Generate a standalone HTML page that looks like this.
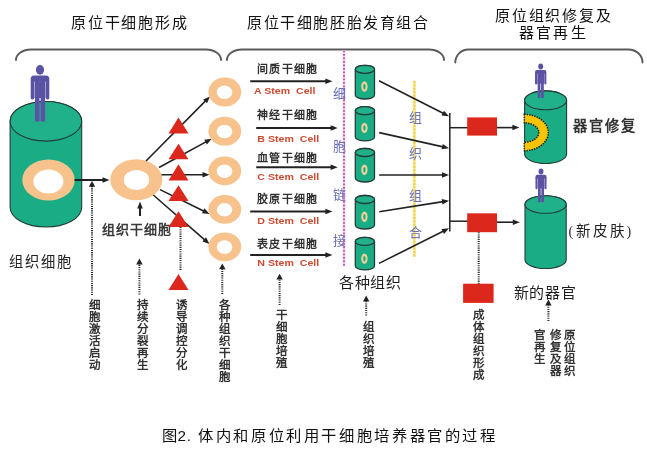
<!DOCTYPE html>
<html lang="zh-CN"><head><meta charset="utf-8"><title>图2</title>
<style>html,body{margin:0;padding:0;background:#fff;width:647px;height:454px;overflow:hidden;font-family:"Liberation Sans",sans-serif}svg{display:block;will-change:transform}</style>
</head><body><svg width="647" height="454" viewBox="0 0 647 454"><text x="71" y="28.3" font-family='"Liberation Sans", sans-serif' font-size="15" fill="#111" font-weight="500" letter-spacing="1.75" >原位干细胞形成</text><text x="247" y="28.3" font-family='"Liberation Sans", sans-serif' font-size="15" fill="#111" font-weight="500" letter-spacing="1.6" >原位干细胞胚胎发育组合</text><text x="495" y="20.5" font-family='"Liberation Sans", sans-serif' font-size="15" fill="#111" font-weight="500" letter-spacing="1.75" >原位组织修复及</text><text x="519" y="37.5" font-family='"Liberation Sans", sans-serif' font-size="15" fill="#111" font-weight="500" letter-spacing="2.2" >器官再生</text><path d="M16,60 A15,10.5 0 0 1 31,49.5 L206,49.5 A15,10.5 0 0 1 221,60" fill="none" stroke="#5a5a5a" stroke-width="1.9" stroke-linecap="round"/><path d="M227,60 A15,10.5 0 0 1 242,49.5 L429,49.5 A15,10.5 0 0 1 444,60" fill="none" stroke="#5a5a5a" stroke-width="1.9" stroke-linecap="round"/><path d="M455.3,62.5 A13,13 0 0 1 468.3,49.5 L628.5,49.5 A14,13 0 0 1 642.5,62.5" fill="none" stroke="#5a5a5a" stroke-width="1.9" stroke-linecap="round"/><path d="M10.1,121.3 L10.1,207.2 A35.8,19.8 0 0 0 81.7,207.2 L81.7,121.3 A35.8,19.8 0 0 0 10.1,121.3 Z" fill="#1aad85" stroke="#253d38" stroke-width="1.1"/><ellipse cx="45.9" cy="121.3" rx="35.8" ry="19.8" fill="#20b08a" stroke="#253d38" stroke-width="1.1"/><g transform="translate(40,65) scale(1.0000)" fill="#5a52a3"><ellipse cx="0" cy="4.85" rx="4.1" ry="4.85"/><path d="M-9.3,14 Q-9.3,10.5 -6,10.5 L6,10.5 Q9.3,10.5 9.3,14 L9.3,16.5 L-9.3,16.5 Z"/><rect x="-9.3" y="15" width="3.4" height="19.6" rx="1.7"/><rect x="5.9" y="15" width="3.4" height="19.6" rx="1.7"/><rect x="-5.5" y="15" width="11" height="18"/><rect x="-5.0" y="30" width="4.5" height="26.6" rx="1.2"/><rect x="0.6" y="30" width="4.5" height="26.6" rx="1.2"/></g><ellipse cx="48.5" cy="180.0" rx="26.2" ry="20.6" fill="#f7c28b"/><ellipse cx="48.4" cy="181.4" rx="15.0" ry="12.0" fill="#fff"/><line x1="74.5" y1="180" x2="103.50" y2="180.00" stroke="#222" stroke-width="2"/><path d="M109.50,180.00 L102.50,182.75 L102.50,177.25 Z" fill="#222"/><line x1="92" y1="295" x2="92" y2="186" stroke="#2a2a2a" stroke-width="2.0" stroke-dasharray="1.1 1.1"/><path d="M92.00,181.00 L95.20,186.80 L88.80,186.80 Z" fill="#222"/><ellipse cx="136.3" cy="179.7" rx="26" ry="20.5" fill="#f7c28b"/><ellipse cx="136.5" cy="180" rx="12.7" ry="10.1" fill="#fff"/><line x1="140" y1="216" x2="140.00" y2="207.50" stroke="#222" stroke-width="2"/><path d="M140.00,201.50 L142.75,208.50 L137.25,208.50 Z" fill="#222"/><text x="102" y="233.8" font-family='"Liberation Serif", serif' font-size="13" fill="#3a3a3a" font-weight="bold" letter-spacing="1.0" >组织干细胞</text><text x="9.3" y="266.7" font-family='"Liberation Serif", serif' font-size="14.3" fill="#222" font-weight="500" letter-spacing="1.9" >组织细胞</text><line x1="146" y1="161" x2="205.78" y2="100.66" stroke="#222" stroke-width="1.6"/><path d="M210.00,96.40 L207.03,103.31 L203.12,99.44 Z" fill="#222"/><line x1="159" y1="167.5" x2="206.43" y2="141.58" stroke="#222" stroke-width="1.6"/><path d="M211.70,138.70 L206.88,144.47 L204.24,139.64 Z" fill="#222"/><line x1="161.5" y1="174.7" x2="203.50" y2="174.70" stroke="#222" stroke-width="1.6"/><path d="M209.50,174.70 L202.50,177.45 L202.50,171.95 Z" fill="#222"/><line x1="160" y1="189.6" x2="204.11" y2="211.26" stroke="#222" stroke-width="1.6"/><path d="M209.50,213.90 L202.00,213.28 L204.43,208.35 Z" fill="#222"/><line x1="153.3" y1="195" x2="204.98" y2="240.06" stroke="#222" stroke-width="1.6"/><path d="M209.50,244.00 L202.42,241.47 L206.03,237.33 Z" fill="#222"/><path d="M178.5,117.4 L188.5,133.4 L168.5,133.4 Z" fill="#dc281c"/><path d="M178.5,143.8 L188.5,159.2 L168.5,159.2 Z" fill="#dc281c"/><path d="M178.5,164.3 L188.5,180.4 L168.5,180.4 Z" fill="#dc281c"/><path d="M178.5,185.2 L188.5,201 L168.5,201 Z" fill="#dc281c"/><path d="M178.5,211.2 L188.5,227 L168.5,227 Z" fill="#dc281c"/><path d="M178.5,274 L188.5,290 L168.5,290 Z" fill="#dc281c"/><line x1="180.5" y1="227" x2="180.5" y2="271" stroke="#2a2a2a" stroke-width="2.0" stroke-dasharray="1.1 1.1"/><ellipse cx="224.8" cy="92" rx="16.4" ry="14.4" fill="#f7c28b"/><ellipse cx="224.5" cy="92.3" rx="7.8" ry="6.8" fill="#fff"/><ellipse cx="224.8" cy="131.2" rx="16.4" ry="14.4" fill="#f7c28b"/><ellipse cx="224.5" cy="131.5" rx="7.8" ry="6.8" fill="#fff"/><ellipse cx="224.8" cy="170.9" rx="16.4" ry="14.4" fill="#f7c28b"/><ellipse cx="224.5" cy="171.2" rx="7.8" ry="6.8" fill="#fff"/><ellipse cx="224.8" cy="209.4" rx="16.4" ry="14.4" fill="#f7c28b"/><ellipse cx="224.5" cy="209.7" rx="7.8" ry="6.8" fill="#fff"/><ellipse cx="224.8" cy="246.8" rx="16.4" ry="14.4" fill="#f7c28b"/><ellipse cx="224.5" cy="247.1" rx="7.8" ry="6.8" fill="#fff"/><line x1="139.4" y1="294.5" x2="139.4" y2="263.6" stroke="#2a2a2a" stroke-width="2.0" stroke-dasharray="1.1 1.1"/><path d="M139.40,258.60 L142.60,264.40 L136.20,264.40 Z" fill="#222"/><line x1="222.3" y1="294" x2="222.3" y2="268.5" stroke="#2a2a2a" stroke-width="2.0" stroke-dasharray="1.1 1.1"/><path d="M222.30,263.50 L225.50,269.30 L219.10,269.30 Z" fill="#222"/><line x1="279.6" y1="305" x2="279.6" y2="278.7" stroke="#2a2a2a" stroke-width="2.0" stroke-dasharray="1.1 1.1"/><path d="M279.60,273.70 L282.80,279.50 L276.40,279.50 Z" fill="#222"/><line x1="366.2" y1="315.5" x2="366.2" y2="300.6" stroke="#2a2a2a" stroke-width="2.0" stroke-dasharray="1.1 1.1"/><path d="M366.20,295.60 L369.40,301.40 L363.00,301.40 Z" fill="#222"/><line x1="548.4" y1="321" x2="548.4" y2="304.6" stroke="#2a2a2a" stroke-width="2.0" stroke-dasharray="1.1 1.1"/><path d="M548.40,299.60 L551.60,305.40 L545.20,305.40 Z" fill="#222"/><text font-family='"Liberation Serif", serif' font-size="11.5" fill="#333" font-weight="bold" text-anchor="middle"><tspan x="94.6" y="308.59">细</tspan><tspan x="94.6" y="320.59">胞</tspan><tspan x="94.6" y="332.59">激</tspan><tspan x="94.6" y="344.59">活</tspan><tspan x="94.6" y="356.59">启</tspan><tspan x="94.6" y="368.59">动</tspan></text><text font-family='"Liberation Serif", serif' font-size="11.5" fill="#333" font-weight="bold" text-anchor="middle"><tspan x="142.7" y="308.59">持</tspan><tspan x="142.7" y="320.59">续</tspan><tspan x="142.7" y="332.59">分</tspan><tspan x="142.7" y="344.59">裂</tspan><tspan x="142.7" y="356.59">再</tspan><tspan x="142.7" y="368.59">生</tspan></text><text font-family='"Liberation Serif", serif' font-size="11.5" fill="#333" font-weight="bold" text-anchor="middle"><tspan x="181.5" y="308.59">诱</tspan><tspan x="181.5" y="320.59">导</tspan><tspan x="181.5" y="332.59">调</tspan><tspan x="181.5" y="344.59">控</tspan><tspan x="181.5" y="356.59">分</tspan><tspan x="181.5" y="368.59">化</tspan></text><text font-family='"Liberation Serif", serif' font-size="11.5" fill="#333" font-weight="bold" text-anchor="middle"><tspan x="224.8" y="308.59">各</tspan><tspan x="224.8" y="320.59">种</tspan><tspan x="224.8" y="332.59">组</tspan><tspan x="224.8" y="344.59">织</tspan><tspan x="224.8" y="356.59">干</tspan><tspan x="224.8" y="368.59">细</tspan><tspan x="224.8" y="380.59">胞</tspan></text><text font-family='"Liberation Serif", serif' font-size="11.5" fill="#333" font-weight="bold" text-anchor="middle"><tspan x="281" y="318.79">干</tspan><tspan x="281" y="330.79">细</tspan><tspan x="281" y="342.79">胞</tspan><tspan x="281" y="354.79">培</tspan><tspan x="281" y="366.79">殖</tspan></text><text font-family='"Liberation Serif", serif' font-size="11.5" fill="#333" font-weight="bold" text-anchor="middle"><tspan x="368" y="330.59">组</tspan><tspan x="368" y="342.59">织</tspan><tspan x="368" y="354.59">培</tspan><tspan x="368" y="366.59">殖</tspan></text><text font-family='"Liberation Serif", serif' font-size="11.5" fill="#333" font-weight="bold" text-anchor="middle"><tspan x="478.8" y="319.39">成</tspan><tspan x="478.8" y="331.39">体</tspan><tspan x="478.8" y="343.39">组</tspan><tspan x="478.8" y="355.39">织</tspan><tspan x="478.8" y="367.39">形</tspan><tspan x="478.8" y="379.39">成</tspan></text><text font-family='"Liberation Serif", serif' font-size="11.5" fill="#333" font-weight="bold" text-anchor="middle"><tspan x="569.6" y="339.19">原</tspan><tspan x="569.6" y="351.19">位</tspan><tspan x="569.6" y="363.19">组</tspan><tspan x="569.6" y="375.19">织</tspan></text><text font-family='"Liberation Serif", serif' font-size="11.5" fill="#333" font-weight="bold" text-anchor="middle"><tspan x="555" y="339.19">修</tspan><tspan x="555" y="351.19">复</tspan><tspan x="555" y="363.19">及</tspan><tspan x="555" y="375.19">器</tspan></text><text font-family='"Liberation Serif", serif' font-size="11.5" fill="#333" font-weight="bold" text-anchor="middle"><tspan x="539.8" y="339.19">官</tspan><tspan x="539.8" y="351.19">再</tspan><tspan x="539.8" y="363.19">生</tspan></text><text x="257.2" y="72.8" font-family='"Liberation Serif", serif' font-size="11" fill="#303030" font-weight="bold" letter-spacing="1.25" >间质干细胞</text><line x1="250.2" y1="81.3" x2="326.40" y2="81.30" stroke="#222" stroke-width="2"/><path d="M332.40,81.30 L325.40,84.05 L325.40,78.55 Z" fill="#222"/><text transform="translate(254,94.00) scale(1.13,1)" font-family='"Liberation Sans", sans-serif' font-size="9.4" fill="#cc4b32" font-weight="bold">A Stem  Cell</text><text x="257.2" y="118.8" font-family='"Liberation Serif", serif' font-size="11" fill="#303030" font-weight="bold" letter-spacing="1.25" >神经干细胞</text><line x1="256.2" y1="127.9" x2="331.70" y2="127.90" stroke="#222" stroke-width="2"/><path d="M337.70,127.90 L330.70,130.65 L330.70,125.15 Z" fill="#222"/><text transform="translate(257.3,141.70) scale(1.13,1)" font-family='"Liberation Sans", sans-serif' font-size="9.4" fill="#cc4b32" font-weight="bold">B Stem  Cell</text><text x="257.2" y="161.6" font-family='"Liberation Serif", serif' font-size="11" fill="#303030" font-weight="bold" letter-spacing="1.25" >血管干细胞</text><line x1="256.2" y1="167.2" x2="331.70" y2="167.20" stroke="#222" stroke-width="2"/><path d="M337.70,167.20 L330.70,169.95 L330.70,164.45 Z" fill="#222"/><text transform="translate(257.3,180.00) scale(1.13,1)" font-family='"Liberation Sans", sans-serif' font-size="9.4" fill="#cc4b32" font-weight="bold">C Stem  Cell</text><text x="257.2" y="203.4" font-family='"Liberation Serif", serif' font-size="11" fill="#303030" font-weight="bold" letter-spacing="1.25" >胶原干细胞</text><line x1="250.2" y1="211.5" x2="326.40" y2="211.50" stroke="#222" stroke-width="2"/><path d="M332.40,211.50 L325.40,214.25 L325.40,208.75 Z" fill="#222"/><text transform="translate(257.3,224.00) scale(1.13,1)" font-family='"Liberation Sans", sans-serif' font-size="9.4" fill="#cc4b32" font-weight="bold">D Stem  Cell</text><text x="257.2" y="247.9" font-family='"Liberation Serif", serif' font-size="11" fill="#303030" font-weight="bold" letter-spacing="1.25" >表皮干细胞</text><line x1="250.2" y1="255.1" x2="326.40" y2="255.10" stroke="#222" stroke-width="2"/><path d="M332.40,255.10 L325.40,257.85 L325.40,252.35 Z" fill="#222"/><text transform="translate(257.3,266.20) scale(1.13,1)" font-family='"Liberation Sans", sans-serif' font-size="9.4" fill="#cc4b32" font-weight="bold">N Stem  Cell</text><line x1="344" y1="50" x2="344" y2="266" stroke="#f5cdee" stroke-width="2.6"/><line x1="344" y1="50.5" x2="344" y2="266" stroke="#bb62ad" stroke-width="2.0" stroke-dasharray="1.7 1.8"/><line x1="414.3" y1="81" x2="414.3" y2="257" stroke="#f7e896" stroke-width="3"/><line x1="414.3" y1="81" x2="414.3" y2="257" stroke="#ecd24e" stroke-width="2.1" stroke-dasharray="1.9 1.5"/><text x="333.4" y="98.2" font-family='"Liberation Serif", serif' font-size="13" fill="#6a70ba" font-weight="500" letter-spacing="0" >细</text><text x="333.4" y="150.5" font-family='"Liberation Serif", serif' font-size="13" fill="#6a70ba" font-weight="500" letter-spacing="0" >胞</text><text x="333.4" y="198.9" font-family='"Liberation Serif", serif' font-size="13" fill="#6a70ba" font-weight="500" letter-spacing="0" >链</text><text x="333.4" y="245.4" font-family='"Liberation Serif", serif' font-size="13" fill="#6a70ba" font-weight="500" letter-spacing="0" >接</text><text x="409.4" y="122.0" font-family='"Liberation Serif", serif' font-size="13" fill="#6a70ba" font-weight="500" letter-spacing="0" >组</text><text x="409.4" y="158.4" font-family='"Liberation Serif", serif' font-size="13" fill="#6a70ba" font-weight="500" letter-spacing="0" >织</text><text x="409.4" y="199.9" font-family='"Liberation Serif", serif' font-size="13" fill="#6a70ba" font-weight="500" letter-spacing="0" >组</text><text x="409.4" y="237.4" font-family='"Liberation Serif", serif' font-size="13" fill="#6a70ba" font-weight="500" letter-spacing="0" >合</text><path d="M355.3,69.3 L355.3,95 A9.6,4 0 0 0 374.5,95 L374.5,69.3 A9.6,4 0 0 0 355.3,69.3 Z" fill="#1aad85" stroke="#253d38" stroke-width="1.3"/><ellipse cx="364.9" cy="69.3" rx="9.6" ry="4" fill="#20b08a" stroke="#253d38" stroke-width="1.3"/><ellipse cx="364.4" cy="86.5" rx="3.2" ry="5.2" fill="#f1cf96"/><ellipse cx="364.4" cy="86.5" rx="1.2" ry="2.7" fill="#1aad85"/><path d="M355.3,110.7 L355.3,136.9 A9.6,4 0 0 0 374.5,136.9 L374.5,110.7 A9.6,4 0 0 0 355.3,110.7 Z" fill="#1aad85" stroke="#253d38" stroke-width="1.3"/><ellipse cx="364.9" cy="110.7" rx="9.6" ry="4" fill="#20b08a" stroke="#253d38" stroke-width="1.3"/><ellipse cx="364.4" cy="127.9" rx="3.2" ry="5.2" fill="#f1cf96"/><ellipse cx="364.4" cy="127.9" rx="1.2" ry="2.7" fill="#1aad85"/><path d="M355.3,152.5 L355.3,178 A9.6,4 0 0 0 374.5,178 L374.5,152.5 A9.6,4 0 0 0 355.3,152.5 Z" fill="#1aad85" stroke="#253d38" stroke-width="1.3"/><ellipse cx="364.9" cy="152.5" rx="9.6" ry="4" fill="#20b08a" stroke="#253d38" stroke-width="1.3"/><ellipse cx="364.4" cy="169.7" rx="3.2" ry="5.2" fill="#f1cf96"/><ellipse cx="364.4" cy="169.7" rx="1.2" ry="2.7" fill="#1aad85"/><path d="M355.3,199.5 L355.3,225 A9.6,4 0 0 0 374.5,225 L374.5,199.5 A9.6,4 0 0 0 355.3,199.5 Z" fill="#1aad85" stroke="#253d38" stroke-width="1.3"/><ellipse cx="364.9" cy="199.5" rx="9.6" ry="4" fill="#20b08a" stroke="#253d38" stroke-width="1.3"/><ellipse cx="364.4" cy="216.7" rx="3.2" ry="5.2" fill="#f1cf96"/><ellipse cx="364.4" cy="216.7" rx="1.2" ry="2.7" fill="#1aad85"/><path d="M355.3,241.4 L355.3,265.9 A9.6,4 0 0 0 374.5,265.9 L374.5,241.4 A9.6,4 0 0 0 355.3,241.4 Z" fill="#1aad85" stroke="#253d38" stroke-width="1.3"/><ellipse cx="364.9" cy="241.4" rx="9.6" ry="4" fill="#20b08a" stroke="#253d38" stroke-width="1.3"/><ellipse cx="364.4" cy="258.6" rx="3.2" ry="5.2" fill="#f1cf96"/><ellipse cx="364.4" cy="258.6" rx="1.2" ry="2.7" fill="#1aad85"/><line x1="379" y1="80.7" x2="443.65" y2="113.58" stroke="#222" stroke-width="1.6"/><path d="M449.00,116.30 L441.51,115.58 L444.01,110.68 Z" fill="#222"/><line x1="379.2" y1="132.6" x2="443.14" y2="146.89" stroke="#222" stroke-width="1.6"/><path d="M449.00,148.20 L441.57,149.36 L442.77,143.99 Z" fill="#222"/><line x1="379.2" y1="175" x2="443.00" y2="175.00" stroke="#222" stroke-width="1.6"/><path d="M449.00,175.00 L442.00,177.75 L442.00,172.25 Z" fill="#222"/><line x1="379.2" y1="211.7" x2="443.07" y2="201.63" stroke="#222" stroke-width="1.6"/><path d="M449.00,200.70 L442.51,204.51 L441.66,199.07 Z" fill="#222"/><line x1="379" y1="263.4" x2="443.64" y2="230.99" stroke="#222" stroke-width="1.6"/><path d="M449.00,228.30 L443.98,233.90 L441.51,228.98 Z" fill="#222"/><line x1="449.8" y1="113" x2="449.8" y2="231.6" stroke="#222" stroke-width="1.5"/><line x1="449.8" y1="127.7" x2="468" y2="127.7" stroke="#222" stroke-width="1.5"/><line x1="449.8" y1="221.2" x2="468" y2="221.2" stroke="#222" stroke-width="1.5"/><rect x="467.2" y="117.4" width="29.8" height="18.2" fill="#dc281c"/><rect x="467.2" y="213.3" width="29.8" height="18.9" fill="#dc281c"/><rect x="463.1" y="283.7" width="30.5" height="19.2" fill="#dc281c"/><line x1="478.7" y1="232.2" x2="478.7" y2="283.7" stroke="#2a2a2a" stroke-width="2.0" stroke-dasharray="1.1 1.1"/><line x1="497" y1="127.6" x2="513.40" y2="127.60" stroke="#222" stroke-width="1.6"/><path d="M519.40,127.60 L512.40,130.35 L512.40,124.85 Z" fill="#222"/><line x1="497" y1="222.2" x2="513.80" y2="222.20" stroke="#222" stroke-width="1.6"/><path d="M519.80,222.20 L512.80,224.95 L512.80,219.45 Z" fill="#222"/><path d="M524.6,100.3 L524.6,154.1 A21.0,9.4 0 0 0 566.6,154.1 L566.6,100.3 A21.0,9.4 0 0 0 524.6,100.3 Z" fill="#1aad85" stroke="#253d38" stroke-width="1.1"/><ellipse cx="545.6" cy="100.3" rx="21.0" ry="9.4" fill="#20b08a" stroke="#253d38" stroke-width="1.1"/><path d="M524.3,114.3 A24,18.2 0 0 1 524.3,150.7 L524.3,142.2 A14.5,9.7 0 0 0 524.3,122.8 Z" fill="#f6c400" stroke="#1a1a1a" stroke-width="1.5" stroke-dasharray="1.4 1.1"/><g transform="translate(540.7,63.5) scale(0.6095)" fill="#5a52a3"><ellipse cx="0" cy="4.85" rx="4.1" ry="4.85"/><path d="M-9.3,14 Q-9.3,10.5 -6,10.5 L6,10.5 Q9.3,10.5 9.3,14 L9.3,16.5 L-9.3,16.5 Z"/><rect x="-9.3" y="15" width="3.4" height="19.6" rx="1.7"/><rect x="5.9" y="15" width="3.4" height="19.6" rx="1.7"/><rect x="-5.5" y="15" width="11" height="18"/><rect x="-5.0" y="30" width="4.5" height="26.6" rx="1.2"/><rect x="0.6" y="30" width="4.5" height="26.6" rx="1.2"/></g><path d="M525,204.5 L525,259.7 A20.6,8.8 0 0 0 566.2,259.7 L566.2,204.5 A20.6,8.8 0 0 0 525,204.5 Z" fill="#1aad85" stroke="#253d38" stroke-width="1.1"/><ellipse cx="545.6" cy="204.5" rx="20.6" ry="8.8" fill="#20b08a" stroke="#253d38" stroke-width="1.1"/><g transform="translate(541,168.6) scale(0.5954)" fill="#5a52a3"><ellipse cx="0" cy="4.85" rx="4.1" ry="4.85"/><path d="M-9.3,14 Q-9.3,10.5 -6,10.5 L6,10.5 Q9.3,10.5 9.3,14 L9.3,16.5 L-9.3,16.5 Z"/><rect x="-9.3" y="15" width="3.4" height="19.6" rx="1.7"/><rect x="5.9" y="15" width="3.4" height="19.6" rx="1.7"/><rect x="-5.5" y="15" width="11" height="18"/><rect x="-5.0" y="30" width="4.5" height="26.6" rx="1.2"/><rect x="0.6" y="30" width="4.5" height="26.6" rx="1.2"/></g><text x="572.8" y="130.9" font-family='"Liberation Serif", serif' font-size="14.3" fill="#333" font-weight="bold" letter-spacing="2.2" >器官修复</text><text x="568.5" y="235.8" font-family='"Liberation Serif", serif' font-size="14" fill="#2a2a2a" font-weight="normal" letter-spacing="0" >(</text><text x="576" y="236.2" font-family='"Liberation Serif", serif' font-size="14.6" fill="#222" font-weight="500" letter-spacing="1.8" >新皮肤</text><text x="626.5" y="235.8" font-family='"Liberation Serif", serif' font-size="14" fill="#2a2a2a" font-weight="normal" letter-spacing="0" >)</text><text x="513.5" y="298.0" font-family='"Liberation Sans", sans-serif' font-size="15" fill="#1e1e1e" font-weight="500" letter-spacing="0.7" >新的器官</text><text x="339" y="288.2" font-family='"Liberation Sans", sans-serif' font-size="15" fill="#1e1e1e" font-weight="500" letter-spacing="0.7" >各种组织</text><text x="162.0" y="441.2" font-family='"Liberation Sans", sans-serif' font-size="15.3" fill="#111" font-weight="500" letter-spacing="0.6" >图2.</text><text x="198.0" y="441.2" font-family='"Liberation Sans", sans-serif' font-size="15.3" fill="#111" font-weight="500" letter-spacing="2.63" >体内和原位利用干细胞培养器官的过程</text></svg></body></html>
